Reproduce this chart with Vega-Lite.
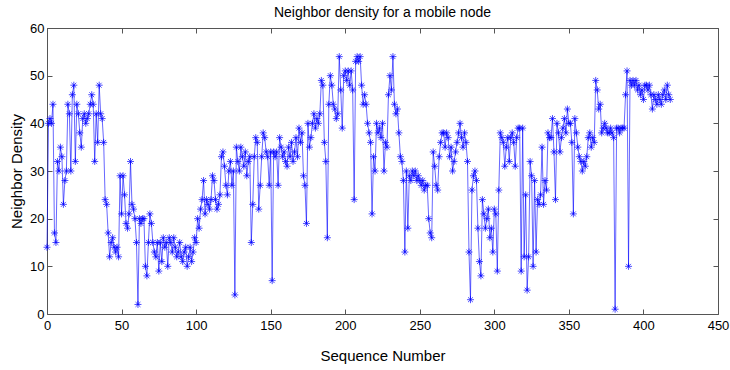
{
  "$schema": "https://vega.github.io/schema/vega-lite/v6.json",
  "autosize": {"type": "none"},
  "padding": {"left": 47, "top": 28, "right": 12, "bottom": 56},
  "width": 671,
  "height": 286,
  "background": "white",
  "title": {"text": "Neighbor density for a mobile node", "fontSize": 14, "fontWeight": "normal", "font": "Liberation Sans", "color": "#000", "offset": 2},
  "config": {
    "view": {"stroke": null},
    "axis": {"grid": false, "domainColor": "#555", "tickColor": "#555", "labelColor": "#000", "labelFont": "Liberation Sans", "labelFontSize": 13, "titleFont": "Liberation Sans", "titleFontSize": 15, "titleFontWeight": "normal", "titleColor": "#000"}
  },
  "data": {"values": [
{"s":0,"d":14},{"s":1,"d":40},{"s":2,"d":41},{"s":3,"d":40},{"s":4,"d":44},{"s":5,"d":17},{"s":6,"d":15},{"s":7,"d":32},{"s":8,"d":30},{"s":9,"d":35},
{"s":10,"d":33},{"s":11,"d":23},{"s":12,"d":28},{"s":13,"d":30},{"s":14,"d":44},{"s":15,"d":42},{"s":16,"d":30},{"s":17,"d":46},{"s":18,"d":48},{"s":19,"d":32},
{"s":20,"d":44},{"s":21,"d":42},{"s":22,"d":38},{"s":23,"d":35},{"s":24,"d":41},{"s":25,"d":42},{"s":26,"d":40},{"s":27,"d":41},{"s":28,"d":42},{"s":29,"d":44},
{"s":30,"d":46},{"s":31,"d":44},{"s":32,"d":32},{"s":33,"d":42},{"s":34,"d":36},{"s":35,"d":48},{"s":36,"d":42},{"s":37,"d":41},{"s":38,"d":36},{"s":39,"d":24},
{"s":40,"d":23},{"s":41,"d":17},{"s":42,"d":12},{"s":43,"d":15},{"s":44,"d":16},{"s":45,"d":14},{"s":46,"d":13},{"s":47,"d":14},{"s":48,"d":12},{"s":49,"d":29},
{"s":50,"d":21},{"s":51,"d":29},{"s":52,"d":25},{"s":53,"d":19},{"s":54,"d":18},{"s":55,"d":21},{"s":56,"d":32},{"s":57,"d":23},{"s":58,"d":22},{"s":59,"d":20},
{"s":60,"d":15},{"s":61,"d":2},{"s":62,"d":20},{"s":63,"d":19},{"s":64,"d":20},{"s":65,"d":20},{"s":66,"d":10},{"s":67,"d":8},{"s":68,"d":15},{"s":69,"d":21},
{"s":70,"d":19},{"s":71,"d":15},{"s":72,"d":13},{"s":73,"d":12},{"s":74,"d":15},{"s":75,"d":9},{"s":76,"d":15},{"s":77,"d":11},{"s":78,"d":16},
{"s":79,"d":14},{"s":80,"d":15},{"s":81,"d":10},{"s":82,"d":16},{"s":83,"d":15},{"s":84,"d":13},{"s":85,"d":16},{"s":86,"d":14},{"s":87,"d":12},{"s":88,"d":13},
{"s":89,"d":15},{"s":90,"d":12},{"s":91,"d":11},{"s":92,"d":13},{"s":93,"d":14},{"s":94,"d":10},{"s":95,"d":12},{"s":96,"d":14},{"s":97,"d":11},{"s":98,"d":13},
{"s":99,"d":16},{"s":100,"d":15},{"s":101,"d":20},{"s":102,"d":18},{"s":103,"d":22},{"s":104,"d":24},{"s":105,"d":28},{"s":106,"d":21},{"s":107,"d":24},{"s":108,"d":23},
{"s":109,"d":22},{"s":110,"d":24},{"s":111,"d":29},{"s":112,"d":28},{"s":113,"d":24},{"s":114,"d":22},{"s":115,"d":23},{"s":116,"d":25},{"s":117,"d":33},{"s":118,"d":34},
{"s":119,"d":31},{"s":120,"d":27},{"s":121,"d":25},{"s":122,"d":30},{"s":123,"d":32},{"s":124,"d":27},{"s":125,"d":30},{"s":126,"d":4},{"s":127,"d":35},{"s":128,"d":32},
{"s":129,"d":30},{"s":130,"d":35},{"s":131,"d":33},{"s":132,"d":31},{"s":133,"d":34},{"s":134,"d":29},{"s":135,"d":32},{"s":136,"d":33},{"s":137,"d":15},{"s":138,"d":23},
{"s":139,"d":33},{"s":140,"d":37},{"s":141,"d":36},{"s":142,"d":22},{"s":143,"d":27},{"s":144,"d":33},{"s":145,"d":38},{"s":146,"d":37},{"s":147,"d":34},{"s":148,"d":33},
{"s":149,"d":27},{"s":150,"d":34},{"s":151,"d":7},{"s":152,"d":34},{"s":153,"d":33},{"s":154,"d":34},{"s":155,"d":27},{"s":156,"d":37},{"s":157,"d":35},{"s":158,"d":33},
{"s":159,"d":34},{"s":160,"d":32},{"s":161,"d":31},{"s":162,"d":35},{"s":163,"d":33},{"s":164,"d":36},{"s":165,"d":32},{"s":166,"d":34},{"s":167,"d":37},{"s":168,"d":33},
{"s":169,"d":39},{"s":170,"d":36},{"s":171,"d":38},{"s":172,"d":29},{"s":173,"d":27},{"s":174,"d":19},{"s":175,"d":40},{"s":176,"d":35},{"s":177,"d":37},{"s":178,"d":40},
{"s":179,"d":42},{"s":180,"d":39},{"s":181,"d":41},{"s":182,"d":40},{"s":183,"d":42},{"s":184,"d":49},{"s":185,"d":48},{"s":186,"d":36},{"s":187,"d":32},{"s":188,"d":16},
{"s":189,"d":44},{"s":190,"d":50},{"s":191,"d":48},{"s":192,"d":44},{"s":193,"d":43},{"s":194,"d":41},{"s":195,"d":42},{"s":196,"d":54},{"s":197,"d":47},{"s":198,"d":39},
{"s":199,"d":50},{"s":200,"d":51},{"s":201,"d":49},{"s":202,"d":51},{"s":203,"d":48},{"s":204,"d":51},{"s":205,"d":47},{"s":206,"d":24},{"s":207,"d":53},{"s":208,"d":54},
{"s":209,"d":53},{"s":210,"d":54},{"s":211,"d":48},{"s":212,"d":44},{"s":213,"d":46},{"s":214,"d":44},{"s":215,"d":40},{"s":216,"d":38},{"s":217,"d":36},{"s":218,"d":21},
{"s":219,"d":33},{"s":220,"d":30},{"s":221,"d":40},{"s":222,"d":38},{"s":223,"d":39},{"s":224,"d":37},{"s":225,"d":40},{"s":226,"d":30},{"s":227,"d":36},{"s":228,"d":35},
{"s":229,"d":46},{"s":230,"d":50},{"s":231,"d":47},{"s":232,"d":54},{"s":233,"d":44},{"s":234,"d":42},{"s":235,"d":43},{"s":236,"d":38},{"s":237,"d":33},{"s":238,"d":32},
{"s":239,"d":28},{"s":240,"d":13},{"s":241,"d":30},{"s":242,"d":18},{"s":243,"d":29},{"s":244,"d":28},{"s":245,"d":30},{"s":246,"d":29},{"s":247,"d":30},{"s":248,"d":28},
{"s":249,"d":29},{"s":250,"d":28},{"s":251,"d":27},{"s":252,"d":28},{"s":253,"d":26},{"s":254,"d":27},{"s":255,"d":27},{"s":256,"d":20},{"s":257,"d":17},
{"s":258,"d":16},{"s":259,"d":34},{"s":260,"d":31},{"s":261,"d":27},{"s":262,"d":26},{"s":263,"d":33},{"s":264,"d":36},{"s":265,"d":38},{"s":266,"d":38},{"s":267,"d":35},
{"s":268,"d":38},{"s":269,"d":37},{"s":270,"d":33},{"s":271,"d":35},{"s":272,"d":30},{"s":273,"d":32},{"s":274,"d":34},{"s":275,"d":36},{"s":276,"d":38},{"s":277,"d":40},
{"s":278,"d":37},{"s":279,"d":35},{"s":280,"d":38},{"s":281,"d":36},{"s":282,"d":32},{"s":283,"d":13},{"s":284,"d":3},{"s":285,"d":26},{"s":286,"d":29},{"s":287,"d":30},
{"s":288,"d":28},{"s":289,"d":18},{"s":290,"d":11},{"s":291,"d":8},{"s":292,"d":24},{"s":293,"d":21},{"s":294,"d":18},{"s":295,"d":20},{"s":296,"d":22},{"s":297,"d":16},
{"s":298,"d":18},{"s":299,"d":13},{"s":300,"d":22},{"s":301,"d":21},{"s":302,"d":9},{"s":303,"d":26},{"s":304,"d":38},{"s":305,"d":37},{"s":306,"d":36},{"s":307,"d":31},
{"s":308,"d":35},{"s":309,"d":37},{"s":310,"d":32},{"s":311,"d":37},{"s":312,"d":38},{"s":313,"d":36},{"s":314,"d":31},{"s":315,"d":37},{"s":316,"d":39},{"s":317,"d":39},
{"s":318,"d":9},{"s":319,"d":39},{"s":320,"d":12},{"s":321,"d":25},{"s":322,"d":5},{"s":323,"d":12},{"s":324,"d":32},{"s":325,"d":29},{"s":326,"d":10},{"s":327,"d":28},
{"s":328,"d":13},{"s":329,"d":24},{"s":330,"d":23},{"s":331,"d":25},{"s":332,"d":35},{"s":333,"d":23},{"s":334,"d":28},{"s":335,"d":26},{"s":336,"d":38},{"s":337,"d":37},
{"s":338,"d":37},{"s":339,"d":41},{"s":340,"d":34},{"s":341,"d":24},{"s":342,"d":40},{"s":343,"d":38},{"s":344,"d":34},{"s":345,"d":37},{"s":346,"d":39},{"s":347,"d":41},
{"s":348,"d":38},{"s":349,"d":43},{"s":350,"d":40},{"s":351,"d":40},{"s":352,"d":36},{"s":353,"d":21},{"s":354,"d":41},{"s":355,"d":38},{"s":356,"d":35},{"s":357,"d":33},
{"s":358,"d":32},{"s":359,"d":30},{"s":360,"d":32},{"s":361,"d":31},{"s":362,"d":33},{"s":363,"d":37},{"s":364,"d":38},{"s":365,"d":35},{"s":366,"d":37},{"s":367,"d":36},
{"s":368,"d":49},{"s":369,"d":47},{"s":370,"d":43},{"s":371,"d":44},{"s":372,"d":38},{"s":373,"d":39},{"s":374,"d":40},{"s":375,"d":39},{"s":376,"d":38},
{"s":377,"d":38},{"s":378,"d":39},{"s":379,"d":38},{"s":380,"d":37},{"s":381,"d":1},{"s":382,"d":39},{"s":383,"d":39},{"s":384,"d":38},{"s":385,"d":39},{"s":386,"d":39},
{"s":387,"d":39},{"s":388,"d":46},{"s":389,"d":51},{"s":390,"d":10},{"s":391,"d":49},{"s":392,"d":48},{"s":393,"d":49},{"s":394,"d":48},{"s":395,"d":49},{"s":396,"d":47},
{"s":397,"d":48},{"s":398,"d":46},{"s":399,"d":47},{"s":400,"d":45},{"s":401,"d":48},{"s":402,"d":48},{"s":403,"d":47},{"s":404,"d":48},{"s":405,"d":46},{"s":406,"d":43},
{"s":407,"d":46},{"s":408,"d":45},{"s":409,"d":44},{"s":410,"d":46},{"s":411,"d":45},{"s":412,"d":44},{"s":413,"d":46},{"s":414,"d":47},{"s":415,"d":45},{"s":416,"d":48},
{"s":417,"d":46},{"s":418,"d":45}
  ]},
  "resolve": {"axis": {"x": "independent", "y": "independent"}},
  "layer": [
    {
      "mark": {"type": "line", "color": "#0000ff", "strokeWidth": 0.6},
      "encoding": {
        "x": {"field": "s", "type": "quantitative", "scale": {"domain": [0, 450], "nice": false}, "axis": {"title": "Sequence Number", "values": [0,50,100,150,200,250,300,350,400,450], "tickSize": -5, "labelPadding": 10, "titlePadding": 16, "labelFlush": false}},
        "y": {"field": "d", "type": "quantitative", "scale": {"domain": [0, 60], "nice": false}, "axis": {"title": "Neighbor Density", "values": [0,10,20,30,40,50,60], "tickSize": -5, "labelPadding": 8, "titlePadding": 5, "labelFlush": false}}
      }
    },
    {
      "mark": {"type": "point", "shape": "M-1,0L1,0M0,-1L0,1M-0.7,-0.7L0.7,0.7M-0.7,0.7L0.7,-0.7", "filled": false, "color": "#0000ff", "strokeWidth": 0.7, "size": 49, "opacity": 1},
      "encoding": {
        "x": {"field": "s", "type": "quantitative", "scale": {"domain": [0, 450], "nice": false}, "axis": {"orient": "top", "title": null, "labels": false, "values": [0,50,100,150,200,250,300,350,400,450], "tickSize": -5}},
        "y": {"field": "d", "type": "quantitative", "scale": {"domain": [0, 60], "nice": false}, "axis": {"orient": "right", "title": null, "labels": false, "values": [0,10,20,30,40,50,60], "tickSize": -5}}
      }
    }
  ]
}
